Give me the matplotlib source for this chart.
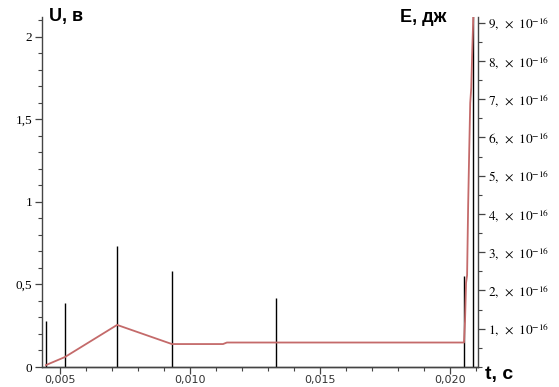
import matplotlib
matplotlib.use("Agg")
import matplotlib.pyplot as plt
from matplotlib.ticker import MultipleLocator, FuncFormatter

# spikes of U (left axis), t in seconds
spike_t = [0.00444, 0.00517, 0.00718, 0.00929, 0.01330, 0.02054, 0.02089]
spike_u = [0.28, 0.39, 0.73, 0.58, 0.42, 0.55, 2.5]

# energy curve (right axis), in units of 1e-16
e_t = [0.00444, 0.00517, 0.00718, 0.00929, 0.01126, 0.01141, 0.02054,
       0.02058, 0.02062, 0.02066, 0.02070, 0.02074, 0.02078, 0.02082, 0.02086, 0.02092]
e_val = [0.05, 0.26, 1.10, 0.60, 0.60, 0.64, 0.64,
         1.2, 2.2, 2.4, 4.2, 5.6, 6.9, 7.3, 8.3, 9.6]

x_ticks = [0.005, 0.010, 0.015, 0.020]
x_labels = ["0,005", "0,010", "0,015", "0,020"]
u_ticks = [0, 0.5, 1, 1.5, 2]
u_labels = ["0", "0,5", "1", "1,5", "2"]
e_ticks = [1, 2, 3, 4, 5, 6, 7, 8, 9]

plt.rcParams['mathtext.fontset'] = 'stix'

fig = plt.figure(figsize=(5.59, 3.87), dpi=100)
ax = fig.add_axes([42/559, 20/387, 436/559, 350/387])
ax2 = ax.twinx()

ax.vlines(spike_t, 0, spike_u, colors='black', lw=1.0, zorder=3)
ax2.plot(e_t, e_val, color='#c46a6a', lw=1.3)

ax.set_xlim(0.004288, 0.02108)
ax.set_ylim(0, 2.12)
ax2.set_ylim(0, 9.15)

ax.set_xticks(x_ticks)
ax.set_xticklabels(x_labels, fontsize=8, family='DejaVu Sans', color='#333333')
ax.xaxis.set_minor_locator(MultipleLocator(0.001))
ax.set_yticks(u_ticks)
ax.set_yticklabels(u_labels, fontsize=9.5, family='Liberation Serif')
ax.yaxis.set_minor_locator(MultipleLocator(0.1))

ax2.set_yticks(e_ticks)
ax2.yaxis.set_major_formatter(FuncFormatter(lambda v, p: r"$%d,\ \times\ 10^{-16}$" % v))
ax2.yaxis.set_minor_locator(MultipleLocator(0.5))
for lab in ax2.get_yticklabels():
    lab.set_fontsize(9.5)

for a in (ax, ax2):
    a.spines['top'].set_visible(False)
    for s in a.spines.values():
        s.set_color('#444444')
        s.set_linewidth(1.0)
    a.tick_params(which='major', length=5, width=0.9, color='#444444', pad=2)
    a.tick_params(which='minor', length=3, width=0.8, color='#444444')
ax.tick_params(axis='x', which='major', pad=0.5)
ax2.spines['left'].set_visible(False)
ax.spines['right'].set_visible(False)

fig.text(49/559, 1 - 17/387, "U, в", fontsize=13, fontweight='bold',
         family='Liberation Sans', va='center', ha='left')
fig.text(400/559, 1 - 17/387, "E, дж", fontsize=13, fontweight='bold',
         family='Liberation Sans', va='center', ha='left')
fig.text(485/559, 1 - 375/387, "t, c", fontsize=14, fontweight='bold',
         family='Liberation Sans', va='center', ha='left')

fig.savefig("out.png", dpi=100)
